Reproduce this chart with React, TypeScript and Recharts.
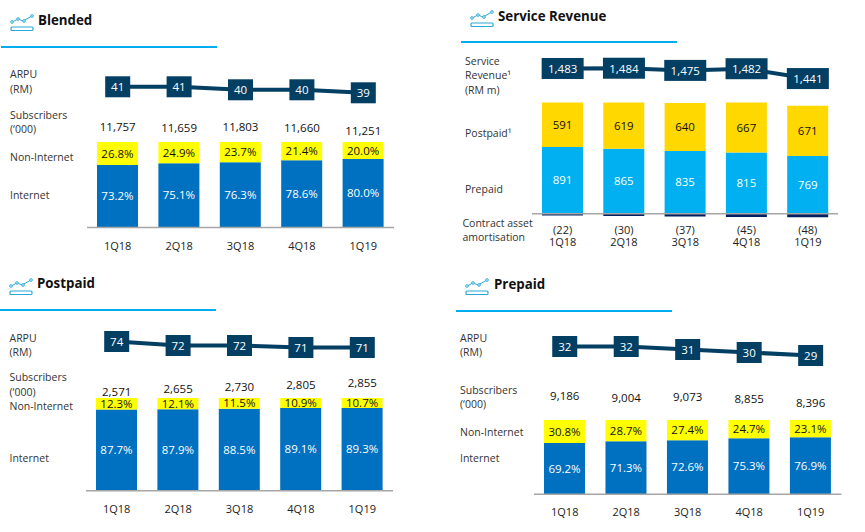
import {
  Bar,
  ComposedChart,
  LabelList,
  Line,
  ReferenceLine,
  XAxis,
  YAxis,
} from "recharts";

const quarters = ["1Q18", "2Q18", "3Q18", "4Q18", "1Q19"];

const blendedArpu = [41, 41, 40, 40, 39];
const blendedSubscribers = [11757, 11659, 11803, 11660, 11251];
const blendedInternet = [73.2, 75.1, 76.3, 78.6, 80.0];
const blendedNonInternet = [26.8, 24.9, 23.7, 21.4, 20.0];

const serviceRevenue = [1483, 1484, 1475, 1482, 1441];
const servicePrepaid = [891, 865, 835, 815, 769];
const servicePostpaid = [591, 619, 640, 667, 671];
const contractAsset = [-22, -30, -37, -45, -48];

const postpaidArpu = [74, 72, 72, 71, 71];
const postpaidSubscribers = [2571, 2655, 2730, 2805, 2855];
const postpaidInternet = [87.7, 87.9, 88.5, 89.1, 89.3];
const postpaidNonInternet = [12.3, 12.1, 11.5, 10.9, 10.7];

const prepaidArpu = [32, 32, 31, 30, 29];
const prepaidSubscribers = [9186, 9004, 9073, 8855, 8396];
const prepaidInternet = [69.2, 71.3, 72.6, 75.3, 76.9];
const prepaidNonInternet = [30.8, 28.7, 27.4, 24.7, 23.1];

const FONT = '"Open Sans", sans-serif';
const NAVY = "#033F63";
const RULE = "#00AEEF";
const PERCENT_COLORS = { lower: "#0070C0", upper: "#FFFF00" };
const REVENUE_COLORS = { lower: "#00B0F0", upper: "#FFD800" };

const percent = (v: number) => `${v.toFixed(1)}%`;
const thousands = (v: number) => v.toLocaleString("en-US");

function TrendIcon({ x, y }: { x: number; y: number }) {
  return (
    <svg
      width={25}
      height={18}
      style={{ position: "absolute", left: x, top: y }}
      fill="none"
      stroke="#2AA9D8"
      strokeWidth={1}
    >
      <polyline points="2,8 8,5 13,7 22,2" />
      <circle cx={2} cy={8} r={1.3} fill="#fff" />
      <circle cx={8} cy={5} r={1.3} fill="#fff" />
      <circle cx={14} cy={7} r={1.3} fill="#fff" />
      <circle cx={22} cy={2} r={1.3} fill="#fff" />
      <rect x={1} y={13} width={22} height={3.5} rx={1} strokeWidth={1.2} />
    </svg>
  );
}

function RowLabel({ text, x, y }: { text: string; x: number; y: number }) {
  return (
    <div
      style={{
        position: "absolute",
        left: x,
        top: y,
        transform: "translateY(-50%)",
        fontFamily: FONT,
        fontSize: 10.5,
        lineHeight: 1,
        color: "#333",
        whiteSpace: "nowrap",
      }}
    >
      {text}
    </div>
  );
}

function Header({ title, titleX, titleY, iconX, iconY, ruleX, ruleY }: any) {
  return (
    <>
      <TrendIcon x={iconX} y={iconY} />
      <div
        style={{
          position: "absolute",
          left: titleX,
          top: titleY,
          transform: "translateY(-50%)",
          fontFamily: FONT,
          fontWeight: 700,
          fontSize: 13.3,
          lineHeight: 1,
          color: "#111",
          whiteSpace: "nowrap",
        }}
      >
        {title}
      </div>
      <div
        style={{
          position: "absolute",
          left: ruleX,
          top: ruleY - 1,
          width: 216,
          height: 2,
          background: RULE,
        }}
      />
    </>
  );
}

// Navy box with the value, drawn on each point of the top line
function boxDot(boxWidth: number) {
  return (props: any) => {
    const { cx, cy, index, payload } = props;
    return (
      <g key={index}>
        <rect x={cx - boxWidth / 2} y={cy - 10.5} width={boxWidth} height={21} fill={NAVY} />
        <text
          x={cx}
          y={cy}
          textAnchor="middle"
          dominantBaseline="central"
          fontFamily={FONT}
          fontSize={11.5}
          fill="#fff"
        >
          {thousands(payload.line)}
        </text>
      </g>
    );
  };
}

function Panel({
  left,
  top,
  width,
  height,
  data,
  barDomain,
  lineDomain,
  subsDomain,
  colors,
  format,
  boxWidth,
  tick,
  tickMargin,
}: any) {
  const labelStyle = { fontFamily: FONT, fontSize: 11.5 };
  return (
    <div style={{ position: "absolute", left, top }}>
      <ComposedChart
        width={width}
        height={height}
        data={data}
        stackOffset="sign"
        margin={{ top: 0, right: 0, bottom: 0, left: 0 }}
      >
        <XAxis
          dataKey="quarter"
          axisLine={false}
          tickLine={false}
          height={height - data[0].plotHeight}
          interval={0}
          tickMargin={tickMargin}
          tick={tick ?? { fill: "#222", fontSize: 11, fontFamily: FONT }}
        />
        <YAxis yAxisId="bars" hide type="number" domain={barDomain} />
        <YAxis yAxisId="line" hide type="number" domain={lineDomain} />
        {subsDomain && <YAxis yAxisId="subs" hide type="number" domain={subsDomain} />}
        <Bar
          yAxisId="bars"
          dataKey="lower"
          stackId="a"
          fill={colors.lower}
          barSize={41}
          isAnimationActive={false}
        >
          <LabelList
            dataKey="lower"
            position="center"
            formatter={format}
            fill="#fff"
            style={labelStyle}
          />
        </Bar>
        <Bar
          yAxisId="bars"
          dataKey="upper"
          stackId="a"
          fill={colors.upper}
          barSize={41}
          isAnimationActive={false}
        >
          <LabelList
            dataKey="upper"
            position="center"
            formatter={format}
            fill="#111"
            style={labelStyle}
          />
        </Bar>
        {data[0].negative !== undefined && (
          <Bar
            yAxisId="bars"
            dataKey="negative"
            stackId="a"
            fill="#002060"
            barSize={41}
            isAnimationActive={false}
          />
        )}
        <ReferenceLine yAxisId="bars" y={0} stroke="#A6A6A6" strokeWidth={1.5} />
        {subsDomain && (
          <Line
            yAxisId="subs"
            dataKey="subs"
            stroke="none"
            dot={false}
            activeDot={false}
            isAnimationActive={false}
          >
            <LabelList
              dataKey="subs"
              position="center"
              formatter={thousands}
              fill="#111"
              style={labelStyle}
            />
          </Line>
        )}
        <Line
          yAxisId="line"
          dataKey="line"
          stroke={NAVY}
          strokeWidth={4}
          dot={boxDot(boxWidth)}
          activeDot={false}
          isAnimationActive={false}
        />
      </ComposedChart>
    </div>
  );
}

const table = (
  plotHeight: number,
  line: number[],
  lower: number[],
  upper: number[],
  subs?: number[],
  negative?: number[],
) =>
  quarters.map((quarter, i) => ({
    quarter,
    plotHeight,
    line: line[i],
    lower: lower[i],
    upper: upper[i],
    ...(subs ? { subs: subs[i] } : {}),
    ...(negative ? { negative: negative[i] } : {}),
  }));

// Second line of the Service Revenue ticks carries the quarter, first line the amortisation
function ServiceTick({ x, y, payload }: any) {
  const v = contractAsset[quarters.indexOf(payload.value)];
  return (
    <text x={x} textAnchor="middle" fontFamily={FONT} fontSize={11} fill="#222">
      <tspan x={x} y={y + 8}>{`(${Math.abs(v)})`}</tspan>
      <tspan x={x} y={y + 20}>{payload.value}</tspan>
    </text>
  );
}

export default function App() {
  return (
    <div
      style={{
        position: "absolute",
        left: 0,
        top: 0,
        width: 865,
        height: 532,
        background: "#fff",
        overflow: "hidden",
      }}
    >
      {/* Blended */}
      <Header title="Blended" titleX={38} titleY={21} iconX={9.5} iconY={14} ruleX={1} ruleY={47} />
      <RowLabel text="ARPU" x={10} y={74} />
      <RowLabel text="(RM)" x={10} y={88.5} />
      <RowLabel text="Subscribers" x={10} y={114.5} />
      <RowLabel text="(‘000)" x={10} y={128.5} />
      <RowLabel text="Non-Internet" x={10} y={157} />
      <RowLabel text="Internet" x={10} y={195} />
      <Panel
        left={87}
        top={60}
        width={307}
        height={200}
        data={table(167.5, blendedArpu, blendedInternet, blendedNonInternet, blendedSubscribers)}
        barDomain={[0, 195.9]}
        lineDomain={[-5.9, 49.93]}
        subsDomain={[-2128, 20975]}
        colors={PERCENT_COLORS}
        format={percent}
        boxWidth={25}
        tickMargin={9}
      />

      {/* Service Revenue */}
      <Header title="Service Revenue" titleX={498} titleY={17} iconX={470} iconY={10} ruleX={461} ruleY={42} />
      <RowLabel text="Service" x={465} y={60.5} />
      <RowLabel text="Revenue¹" x={465} y={74.5} />
      <RowLabel text="(RM m)" x={465} y={89.5} />
      <RowLabel text="Postpaid¹" x={465} y={132.5} />
      <RowLabel text="Prepaid" x={465} y={188.5} />
      <RowLabel text="Contract asset" x={462.5} y={222.5} />
      <RowLabel text="amortisation" x={462.5} y={236.5} />
      <Panel
        left={531.7}
        top={50}
        width={306.5}
        height={206}
        data={table(168, serviceRevenue, servicePrepaid, servicePostpaid, undefined, contractAsset)}
        barDomain={[-57, 2183]}
        lineDomain={[860, 1560]}
        colors={REVENUE_COLORS}
        format={thousands}
        boxWidth={42}
        tick={<ServiceTick />}
      />

      {/* Postpaid */}
      <Header title="Postpaid" titleX={37} titleY={284} iconX={8.5} iconY={278} ruleX={0} ruleY={310} />
      <RowLabel text="ARPU" x={9.5} y={337.5} />
      <RowLabel text="(RM)" x={9.5} y={351.5} />
      <RowLabel text="Subscribers" x={9.5} y={377} />
      <RowLabel text="(‘000)" x={9.5} y={391.5} />
      <RowLabel text="Non-Internet" x={9.5} y={406} />
      <RowLabel text="Internet" x={9.5} y={458} />
      <Panel
        left={85.7}
        top={325}
        width={307}
        height={200}
        data={table(165.7, postpaidArpu, postpaidInternet, postpaidNonInternet, postpaidSubscribers)}
        barDomain={[0, 178.7]}
        lineDomain={[-0.6, 82.25]}
        subsDomain={[-542, 4685]}
        colors={PERCENT_COLORS}
        format={percent}
        boxWidth={25}
        tickMargin={8}
      />

      {/* Prepaid */}
      <Header title="Prepaid" titleX={494} titleY={285} iconX={465} iconY={278} ruleX={456} ruleY={311} />
      <RowLabel text="ARPU" x={460} y={337.5} />
      <RowLabel text="(RM)" x={460} y={351.5} />
      <RowLabel text="Subscribers" x={460} y={389.5} />
      <RowLabel text="(‘000)" x={460} y={404} />
      <RowLabel text="Non-Internet" x={460} y={432} />
      <RowLabel text="Internet" x={460} y={457.5} />
      <Panel
        left={534.3}
        top={330}
        width={307.4}
        height={198}
        data={table(164.3, prepaidArpu, prepaidInternet, prepaidNonInternet, prepaidSubscribers)}
        barDomain={[0, 221.1]}
        lineDomain={[-17.27, 37.5]}
        subsDomain={[-1909, 16635]}
        colors={PERCENT_COLORS}
        format={percent}
        boxWidth={25}
        tickMargin={8}
      />
    </div>
  );
}
